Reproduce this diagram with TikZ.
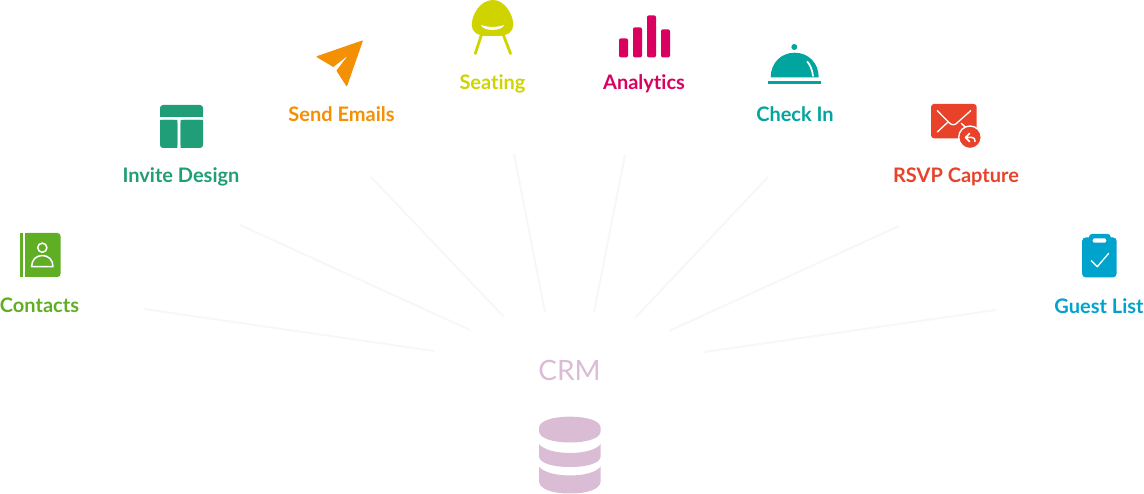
\documentclass[tikz,border=0pt]{standalone}
\usepackage{fontspec}
\setmainfont{Lato}[Ligatures=NoCommon]

\definecolor{contactsgreen}{HTML}{5FAE24}
\definecolor{invitegreen}{HTML}{1F9E78}
\definecolor{sendorange}{HTML}{F39004}
\definecolor{seatingyellow}{HTML}{CFD400}
\definecolor{analyticsred}{HTML}{D90060}
\definecolor{checkinteal}{HTML}{00A5A0}
\definecolor{rsvpred}{HTML}{E8432A}
\definecolor{guestblue}{HTML}{00A3CC}
\definecolor{crmpink}{HTML}{DBBCD5}
\definecolor{spokegray}{HTML}{F7F7F7}

\tikzset{
  itemlabel/.style={anchor=base,inner sep=0pt,font=\fontsize{20}{22}\selectfont\bfseries},
  spoke/.style={draw=spokegray,line width=2pt},
  whiteline/.style={draw=white,line width=1.5pt,line cap=round,line join=round},
}

\begin{document}
\begin{tikzpicture}[x=1pt,y=-1pt]
  \useasboundingbox (0,0) rectangle (1144,494);

  % spoke ends
  \coordinate (contactsout) at (144,309);
  \coordinate (contactsin) at (434,351);
  \coordinate (inviteout) at (240,225);
  \coordinate (invitein) at (470,330);
  \coordinate (sendout) at (371,177);
  \coordinate (sendin) at (504,317);
  \coordinate (seatingout) at (514,154);
  \coordinate (seatingin) at (545,312);
  \coordinate (analyticsout) at (625,155);
  \coordinate (analyticsin) at (594,312);
  \coordinate (checkinout) at (768,177);
  \coordinate (checkinin) at (635,318);
  \coordinate (rsvpout) at (899,226);
  \coordinate (rsvpin) at (669,331);
  \coordinate (guestout) at (996,310);
  \coordinate (guestin) at (704,352);

  % spokes
  \draw[spoke] (contactsout) -- (contactsin);
  \draw[spoke] (inviteout) -- (invitein);
  \draw[spoke] (sendout) -- (sendin);
  \draw[spoke] (seatingout) -- (seatingin);
  \draw[spoke] (analyticsout) -- (analyticsin);
  \draw[spoke] (checkinout) -- (checkinin);
  \draw[spoke] (rsvpout) -- (rsvpin);
  \draw[spoke] (guestout) -- (guestin);

  % labels
  \node[itemlabel,text=contactsgreen] (contacts) at (39.5,313) {Contacts};
  \node[itemlabel,text=invitegreen] (invite) at (181,183) {Invite Design};
  \node[itemlabel,text=sendorange] (send) at (341.5,122) {Send Emails};
  \node[itemlabel,text=seatingyellow] (seating) at (492.5,90) {Seating};
  \node[itemlabel,text=analyticsred] (analytics) at (644,90) {Analytics};
  \node[itemlabel,text=checkinteal] (checkin) at (795,122) {Check In};
  \node[itemlabel,text=rsvpred] (rsvp) at (956,183) {RSVP Capture};
  \node[itemlabel,text=guestblue] (guest) at (1099,313.5) {Guest List};
  \node[anchor=base,inner sep=0pt,text=crmpink,font=\fontsize{28}{30}\selectfont] (crm) at (569.5,380.5) {CRM};

  % contacts book
  \fill[contactsgreen] (20,233) rectangle (23,277);
  \fill[contactsgreen,rounded corners=3pt] (25,233) -- (60.5,233) -- (60.5,277) -- (25,277) -- cycle;
  \fill[contactsgreen] (25,233) rectangle (30,277);
  \draw[whiteline] (42.3,247.7) circle (4.6);
  \draw[whiteline] (31.6,266.6) .. controls (31.6,260) and (36,255.5) .. (42.3,255.5)
    .. controls (48.6,255.5) and (53,260) .. (53,266.6) -- cycle;

  % invite layout
  \fill[invitegreen,rounded corners=3pt] (160,116.7) -- (160,105) -- (203,105) -- (203,116.7) -- cycle;
  \fill[invitegreen,rounded corners=3pt] (160,120) -- (177.3,120) -- (177.3,148) -- (160,148) -- cycle;
  \fill[invitegreen,rounded corners=3pt] (180.7,120) -- (203,120) -- (203,148) -- (180.7,148) -- cycle;
  \fill[invitegreen] (160,113) rectangle (203,116.7);
  \fill[invitegreen] (160,120) rectangle (177.3,123) (180.7,120) rectangle (203,123);
  \fill[invitegreen] (174,123) rectangle (177.3,148) (180.7,123) rectangle (184,148);

  % paper plane
  \fill[sendorange,draw=sendorange,line width=1pt,line join=round]
    (362.3,41) -- (317,56.7) -- (333.3,66.4) -- (350.7,52.7) -- (337,70.7) -- (346.7,85.7) -- cycle;

  % chair
  \draw[seatingyellow,line width=2.8pt,line cap=round] (481.7,34) -- (475.3,53.5);
  \draw[seatingyellow,line width=2.8pt,line cap=round] (503,34) -- (510.5,53.5);
  \fill[seatingyellow] (493,0) .. controls (480,0) and (471.7,15) .. (471.7,25)
    .. controls (471.7,32) and (478,36) .. (486,36) -- (499,36)
    .. controls (507,36) and (513.3,32) .. (513.3,25)
    .. controls (513.3,15) and (505,0) .. (493,0) -- cycle;
  \fill[white] (481,25) .. controls (487,27.5) and (498,27.5) .. (504,25)
    .. controls (502,31.5) and (483,31.5) .. (481,25) -- cycle;

  % bars
  \fill[analyticsred,rounded corners=2pt] (619,38.3) rectangle (628,57.5);
  \fill[analyticsred,rounded corners=2pt] (633,27.3) rectangle (642,57.5);
  \fill[analyticsred,rounded corners=2pt] (647,15.3) rectangle (656,57.5);
  \fill[analyticsred,rounded corners=2pt] (661,29.3) rectangle (670,57.5);

  % dome
  \fill[checkinteal] (794.3,47) circle (3);
  \fill[checkinteal] (770.7,77.3) .. controls (770.7,63) and (781,52.7) .. (794.7,52.7)
    .. controls (808.4,52.7) and (818.7,63) .. (818.7,77.3) -- cycle;
  \fill[checkinteal] (768,81) rectangle (821,84);
  \draw[white,line width=1.7pt,line cap=round] (807.3,61.7) .. controls (810.5,65) and (812.5,71) .. (813,76);

  % envelope
  \fill[rsvpred,rounded corners=3pt] (931,104) rectangle (976.7,138.3);
  \draw[white,line width=1.3pt,line cap=round] (937.3,110.7) -- (949,122.5) .. controls (951.5,125.5) and (955,125.5) .. (957.5,122.5) -- (970.7,110.7);
  \draw[white,line width=1.3pt,line cap=round] (937.3,132) -- (947.3,122.7);
  \draw[white,line width=1.3pt,line cap=round] (961.3,123.3) -- (965.7,127.5);
  \fill[rsvpred,draw=white,line width=1.4pt] (970,137.3) circle (11.3);
  \draw[white,line width=1.5pt,line cap=round,line join=round] (965.5,137.5) -- (969.5,133.5)
    (965.5,137.5) -- (969.5,141.5) (965.5,137.5) -- (972,137.5) .. controls (974.5,137.5) and (975,139) .. (975,141.5);

  % clipboard
  \fill[guestblue,rounded corners=4pt] (1082,237.3) rectangle (1116.7,277.5);
  \fill[guestblue,rounded corners=3pt] (1089,234) rectangle (1110.7,243);
  \fill[white,rounded corners=2pt] (1092.7,238.3) rectangle (1106.3,242.7);
  \draw[whiteline,line width=1.3pt] (1091.3,260.7) -- (1097.3,266.7) -- (1108.7,253.3);

  % database
  \fill[crmpink] (539,428) .. controls (539,421) and (552,416.7) .. (570,416.7)
    .. controls (588,416.7) and (600.7,421) .. (600.7,428) -- (600.7,431)
    .. controls (600.7,438) and (588,442.5) .. (570,442.5)
    .. controls (552,442.5) and (539,438) .. (539,431) -- cycle;
  \fill[crmpink] (539,444) .. controls (548,456) and (592,456) .. (600.7,444) -- (600.7,456)
    .. controls (600.7,463) and (588,467) .. (570,467)
    .. controls (552,467) and (539,463) .. (539,456) -- cycle;
  \fill[crmpink] (539,466.5) .. controls (548,478.5) and (592,478.5) .. (600.7,466.5) -- (600.7,481)
    .. controls (600.7,489) and (588,493.5) .. (570,493.5)
    .. controls (552,493.5) and (539,489) .. (539,481) -- cycle;
\end{tikzpicture}
\end{document}
